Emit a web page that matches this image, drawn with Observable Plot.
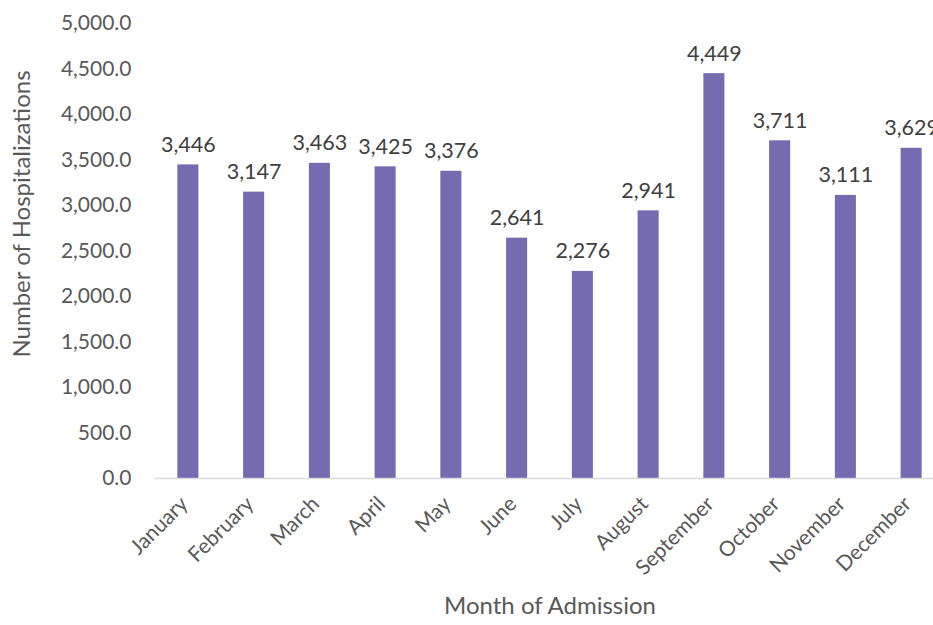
<!DOCTYPE html>
<html>
<head>
<meta charset="utf-8">
<script src="https://cdn.jsdelivr.net/npm/d3@7"></script>
<script src="https://cdn.jsdelivr.net/npm/@observablehq/plot@0.6"></script>
<style>
  html, body { margin: 0; padding: 0; background: #fff; overflow: hidden; }
  #chart { width: 933px; height: 625px; overflow: hidden; }
  #chart svg { max-width: none !important; }
</style>
</head>
<body>
<div id="chart"></div>
<script>
const months = ["January","February","March","April","May","June","July","August","September","October","November","December"];
const hospitalizations = [3446, 3147, 3463, 3425, 3376, 2641, 2276, 2941, 4449, 3711, 3111, 3629];
const yTicks = [0, 500, 1000, 1500, 2000, 2500, 3000, 3500, 4000, 4500, 5000];

const data = months.map((m, i) => ({month: m, value: hospitalizations[i]}));
const font = "Lato, 'Open Sans', sans-serif";

const chart = Plot.plot({
  width: 945,
  height: 625,
  marginTop: 23,
  marginBottom: 147,
  marginLeft: 155,
  marginRight: 1,
  style: {fontFamily: font, fontSize: "21px", color: "#595959", background: "#fff", maxWidth: "none"},
  x: {domain: months, paddingInner: 0.68, paddingOuter: 0.34, round: false},
  y: {domain: [0, 5000]},
  marks: [
    Plot.axisY({ticks: yTicks, tickFormat: d3.format(",.1f"), tickSize: 0, tickPadding: 24,
      label: null, fill: "#595959", fontSize: 21}),
    Plot.axisX({tickRotate: -45, tickSize: 0, tickPadding: 22, dx: -4,
      label: null, fill: "#595959", fontSize: 21}),
    Plot.text(["Number of Hospitalizations"], {frameAnchor: "left", textAnchor: "middle", dx: -133, dy: -37, rotate: -90,
      fill: "#595959", fontSize: 24}),
    Plot.text(["Month of Admission"], {frameAnchor: "bottom", dy: 135,
      fill: "#595959", fontSize: 24}),
    Plot.barY(data, {x: "month", y: "value", fill: "#756bb1"}),
    Plot.ruleY([0], {stroke: "#d9d9d9", strokeWidth: 1.5}),
    Plot.text(data, {x: "month", y: "value", text: d => d3.format(",")(d.value), dy: -20,
      fill: "#404040", fontSize: 21.5})
  ]
});
document.getElementById("chart").appendChild(chart);
</script>
</body>
</html>
